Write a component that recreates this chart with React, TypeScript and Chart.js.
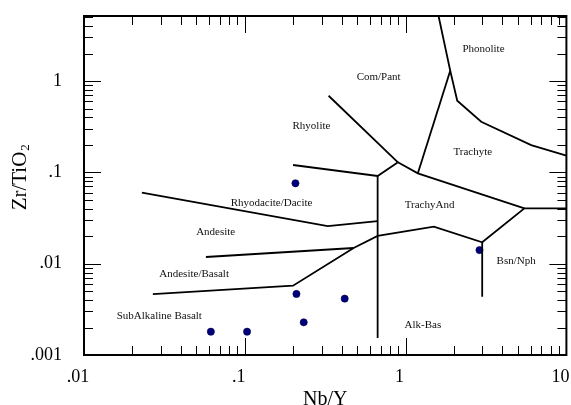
import React, { useEffect, useRef } from 'react';
import { Chart, registerables } from 'chart.js';

Chart.register(...registerables);

// ---- axis ticks ----
const xTickValues = [0.01, 0.1, 1, 10];
const xTickLabels = ['.01', '.1', '1', '10'];
const yTickValues = [0.001, 0.01, 0.1, 1];
const yTickLabels = ['.001', '.01', '.1', '1'];
const xMin = 0.01;
const xMax = 10;
const yMin = 0.001;
const yMax = 5.15;

// ---- samples (Nb/Y, Zr/TiO2) ----
const sampleNbY = [0.2065, 0.0615, 0.1033, 0.2095, 0.418, 0.2325, 2.88];
const sampleZrTi = [0.0759, 0.0018, 0.0018, 0.00466, 0.00414, 0.00228, 0.0141];

// ---- field boundaries [Nb/Y, Zr/TiO2] ----
const rhyodaciteAndesite = [[0.0229, 0.0598], [0.328, 0.0258], [0.67, 0.0293]];
const andesiteAndBasalt = [[0.0573, 0.01183], [0.475, 0.01484]];
const subalkalineAlkaline = [
  [0.0268, 0.00465], [0.1995, 0.00574], [0.475, 0.01484], [0.67, 0.0201],
  [1.499, 0.0254], [2.995, 0.01714], [5.48, 0.0404], [10, 0.0404],
];
const alkBasVertical = [[0.67, 0.0912], [0.67, 0.001535]];
const bsnNphVertical = [[2.995, 0.01714], [2.995, 0.00435]];
const trachyandUpper = [[0.1995, 0.1203], [0.67, 0.0912], [0.896, 0.1288], [1.192, 0.0976], [5.48, 0.0404]];
const rhyoliteComPant = [[0.332, 0.69], [0.896, 0.1288]];
const comPantTrachyte = [[1.192, 0.0976], [1.895, 1.297]];
const phonoliteBoundary = [[1.603, 5.15], [1.895, 1.297], [2.095, 0.608], [2.953, 0.3584], [6.04, 0.199], [10, 0.152]];

const boundaries = [
  rhyodaciteAndesite, andesiteAndBasalt, subalkalineAlkaline, alkBasVertical,
  bsnNphVertical, trachyandUpper, rhyoliteComPant, comPantTrachyte, phonoliteBoundary,
];

// ---- field names ----
const fieldNames = ['Phonolite', 'Com/Pant', 'Rhyolite', 'Trachyte', 'Rhyodacite/Dacite', 'Andesite',
  'Andesite/Basalt', 'SubAlkaline Basalt', 'TrachyAnd', 'Bsn/Nph', 'Alk-Bas'];
const fieldX = [3.05, 0.68, 0.2597, 2.618, 0.1467, 0.0659, 0.0484, 0.0294, 1.41, 4.87, 1.28];
const fieldY = [2.22, 1.106, 0.324, 0.1657, 0.0465, 0.02204, 0.00765, 0.00269, 0.0439, 0.01077, 0.00213];

const SERIF = '"Liberation Serif", "Times New Roman", serif';

function labelFor(values: number[], labels: string[], v: number) {
  let best = 0;
  for (let i = 0; i < values.length; i++) {
    if (Math.abs(Math.log10(values[i]) - Math.log10(v)) < Math.abs(Math.log10(values[best]) - Math.log10(v))) best = i;
  }
  return labels[best];
}

function zeroPadding(s: any) {
  s.paddingTop = 0;
  s.paddingBottom = 0;
  s.paddingLeft = 0;
  s.paddingRight = 0;
}

const framePlugin = {
  id: 'frameAndText',
  afterDatasetsDraw(chart: any) {
    const { ctx, chartArea: a, scales } = chart;
    const x = scales.x;
    const y = scales.y;
    ctx.save();
    // field labels
    ctx.fillStyle = '#111';
    ctx.font = `11px ${SERIF}`;
    ctx.textAlign = 'center';
    ctx.textBaseline = 'middle';
    fieldNames.forEach((n, i) => {
      ctx.fillText(n, x.getPixelForValue(fieldX[i]), y.getPixelForValue(fieldY[i]));
    });

    // inside ticks
    ctx.strokeStyle = '#000';
    ctx.lineWidth = 1;
    ctx.beginPath();
    for (let d = -3; d <= 1; d++) {
      for (let m = 1; m <= 9; m++) {
        const v = m * Math.pow(10, d);
        const len = m === 1 ? 17 : 9;
        if (v >= xMin * 0.999 && v <= xMax * 1.001) {
          const px = Math.round(x.getPixelForValue(v)) + 0.5;
          ctx.moveTo(px, a.bottom); ctx.lineTo(px, a.bottom - len);
          ctx.moveTo(px, a.top); ctx.lineTo(px, a.top + len);
        }
        if (v >= yMin * 0.999 && v <= yMax) {
          const py = Math.round(y.getPixelForValue(v)) + 0.5;
          ctx.moveTo(a.left, py); ctx.lineTo(a.left + len, py);
          ctx.moveTo(a.right, py); ctx.lineTo(a.right - len, py);
        }
      }
    }
    ctx.stroke();

    // frame
    ctx.lineWidth = 2;
    ctx.strokeRect(a.left, a.top, a.right - a.left, a.bottom - a.top);

    // axis titles
    ctx.fillStyle = '#000';
    ctx.font = `20px ${SERIF}`;
    ctx.textAlign = 'center';
    ctx.textBaseline = 'middle';
    ctx.fillText('Nb/Y', (a.left + a.right) / 2, 400);

    ctx.translate(20, 181);
    ctx.rotate(-Math.PI / 2);
    ctx.font = `21px ${SERIF}`;
    const main = 'Zr/TiO';
    const w = ctx.measureText(main).width;
    ctx.textAlign = 'left';
    ctx.fillText(main, -w / 2, 0);
    ctx.font = `13px ${SERIF}`;
    ctx.fillText('2', w / 2 + 1, 6);
    ctx.restore();
  },
};

export default function App() {
  const ref = useRef<HTMLCanvasElement | null>(null);
  useEffect(() => {
    if (!ref.current) return;
    const lineSets = boundaries.map((b) => ({
      type: 'scatter' as const,
      data: b.map(([px, py]) => ({ x: px, y: py })),
      showLine: true,
      borderColor: '#000',
      borderWidth: 1.8,
      pointRadius: 0,
      fill: false,
      tension: 0,
    }));
    const chart = new Chart(ref.current, {
      type: 'scatter',
      data: {
        datasets: [
          ...lineSets,
          {
            data: sampleNbY.map((v, i) => ({ x: v, y: sampleZrTi[i] })),
            showLine: false,
            pointRadius: 3.6,
            backgroundColor: '#00007a',
            borderColor: '#000050',
            borderWidth: 0.6,
          },
        ],
      },
      options: {
        animation: false,
        responsive: false,
        devicePixelRatio: 1,
        events: [],
        layout: { padding: { top: 16, right: 4, left: 0, bottom: 0 } },
        plugins: { legend: { display: false }, tooltip: { enabled: false } },
        scales: {
          x: {
            type: 'logarithmic',
            min: xMin,
            max: xMax,
            afterBuildTicks: (s: any) => { s.ticks = xTickValues.map((v) => ({ value: v })); },
            afterFit: (s: any) => { s.height = 50; zeroPadding(s); },
            ticks: {
              callback: (v: any) => labelFor(xTickValues, xTickLabels, Number(v)),
              font: { family: SERIF, size: 18 },
              color: '#000',
              padding: 11,
              labelOffset: -6,
              autoSkip: false,
              maxRotation: 0,
            },
            grid: { display: false, drawTicks: false },
            border: { display: false },
          },
          y: {
            type: 'logarithmic',
            min: yMin,
            max: yMax,
            afterBuildTicks: (s: any) => { s.ticks = yTickValues.map((v) => ({ value: v })); },
            afterFit: (s: any) => { s.width = 84; zeroPadding(s); },
            ticks: {
              callback: (v: any) => labelFor(yTickValues, yTickLabels, Number(v)),
              font: { family: SERIF, size: 18 },
              color: '#000',
              padding: 22,
              autoSkip: false,
            },
            grid: { display: false, drawTicks: false },
            border: { display: false },
          },
        },
      } as any,
      plugins: [framePlugin],
    });
    return () => chart.destroy();
  }, []);
  return (
    <div style={{ position: 'fixed', left: 0, top: 0, width: 571, height: 405, background: '#fff' }}>
      <canvas ref={ref} width={571} height={405} style={{ display: 'block' }} />
    </div>
  );
}
